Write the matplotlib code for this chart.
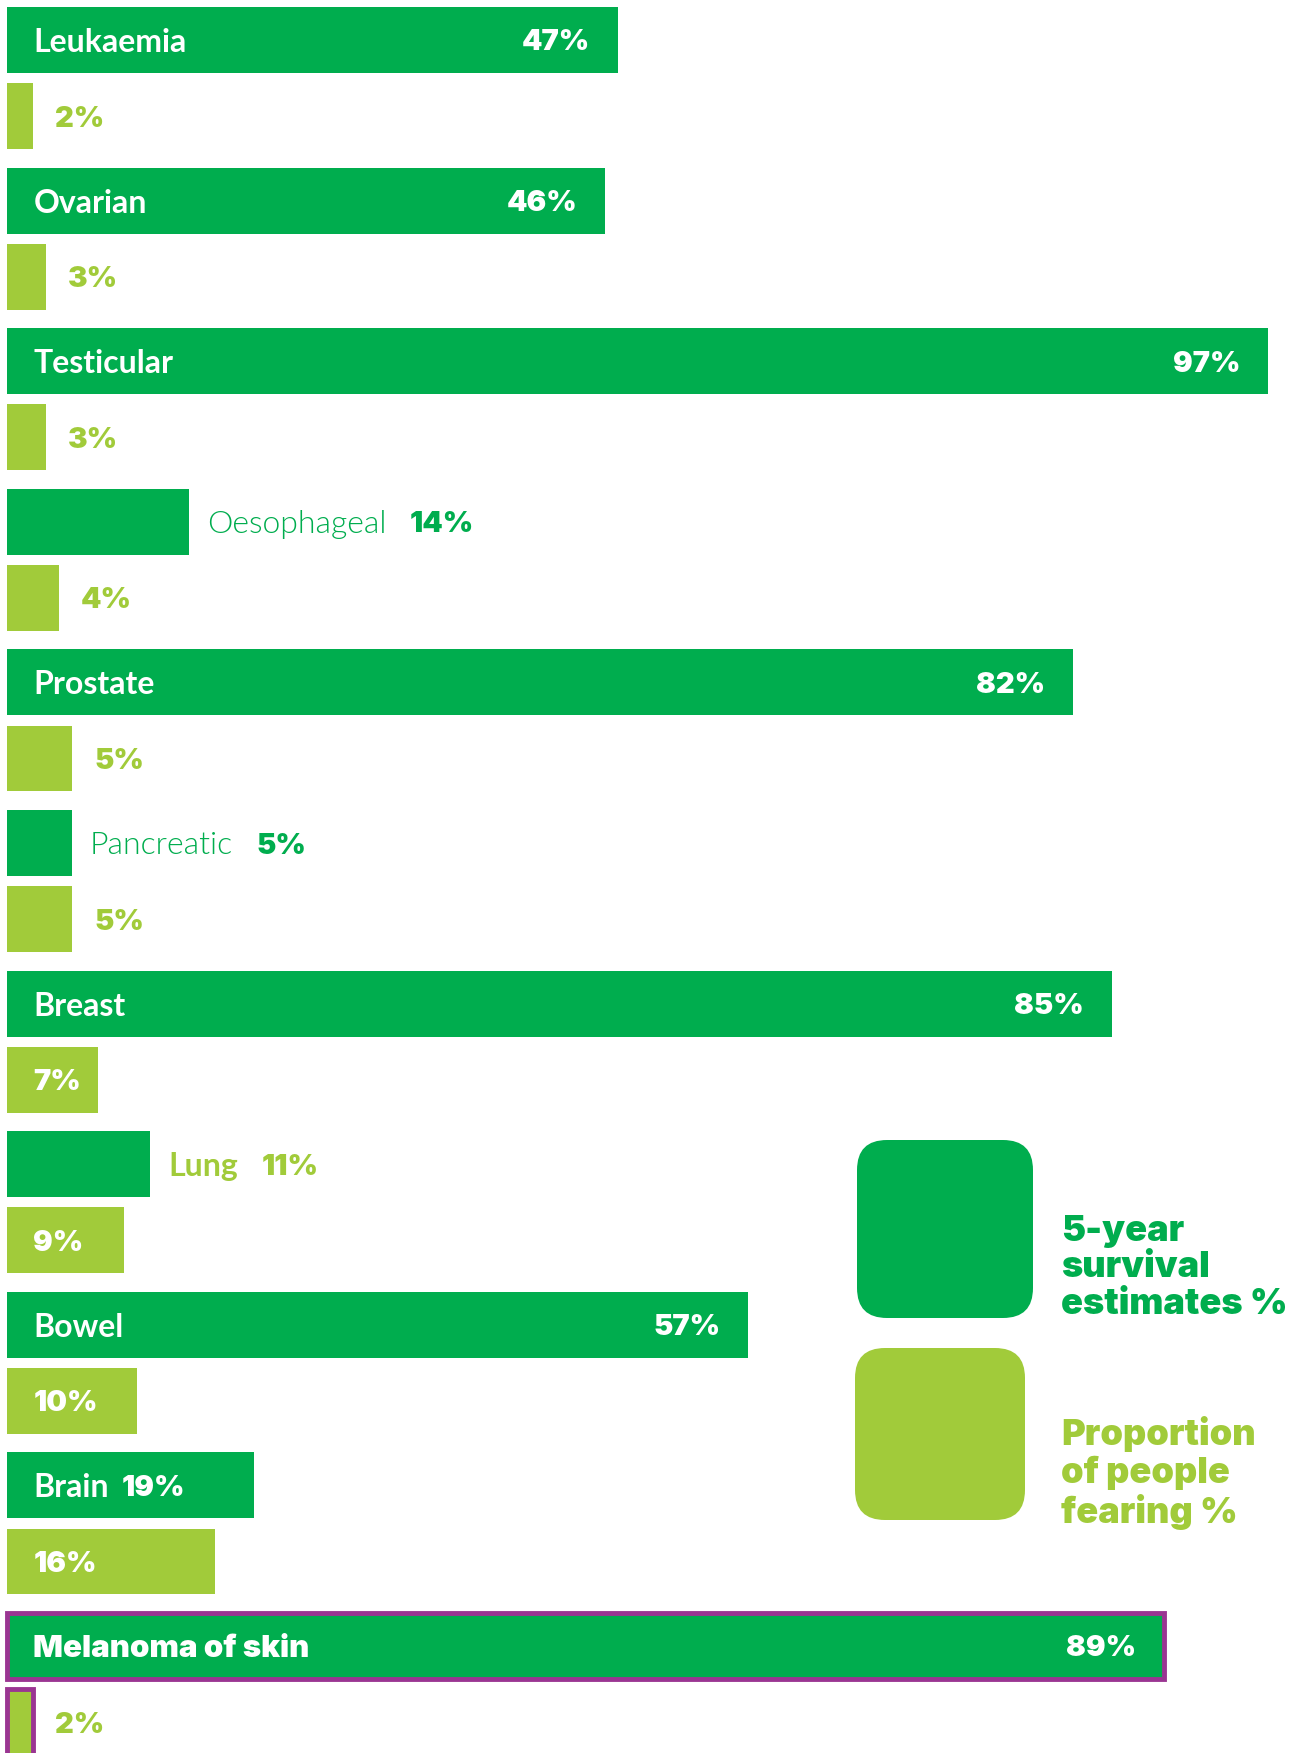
import matplotlib.pyplot as plt
from matplotlib.patches import FancyBboxPatch

# survival vs. fear, by cancer type
cancers = ['Leukaemia', 'Ovarian', 'Testicular', 'Oesophageal', 'Prostate',
           'Pancreatic', 'Breast', 'Lung', 'Bowel', 'Brain', 'Melanoma of skin']
survival = [47, 46, 97, 14, 82, 5, 85, 11, 57, 19, 89]
fearing = [2, 3, 3, 4, 5, 5, 7, 9, 10, 16, 2]
highlight = 'Melanoma of skin'
legend_labels = ['5-year\nsurvival\nestimates %', 'Proportion\nof people\nfearing %']

DARK = '#00AD4E'
LIGHT = '#A1CB3A'
PURPLE = '#9A3592'
NAME_FONT = 'Lato'
NUM_FONT = 'Inter'

W, H = 1297, 1753
fig = plt.figure(figsize=(W / 100, H / 100), dpi=100)
ax = fig.add_axes([0, 0, 1, 1])
ax.set_xlim(-7 / 13, (W - 7) / 13)
ax.set_ylim((H - 40) / 160.6, -40 / 160.6)
ax.axis('off')

bar_h = 0.41
y_surv = list(range(len(cancers)))
y_fear = [y + 0.474 for y in y_surv]
edges = [PURPLE if c == highlight else 'none' for c in cancers]

ax.barh(y_surv, survival, height=bar_h, color=DARK, edgecolor=edges, linewidth=3.5)
ax.barh(y_fear, fearing, height=bar_h, color=LIGHT, edgecolor=edges, linewidth=3.5)

name_kw = dict(fontfamily=NAME_FONT, fontsize=23, va='center_baseline',
               textcoords='offset points')
num_kw = dict(fontfamily=NUM_FONT, fontsize=21, fontweight=900,
              va='center_baseline', textcoords='offset points')
hl_kw = dict(num_kw, fontsize=22.5)
renderer = fig.canvas.get_renderer()


def right_edge(t):
    bb = t.get_window_extent(renderer)
    return ax.transData.inverted().transform((bb.x1, 0))[0]


# survival labels: inside for wide bars, outside for narrow ones
for name, s, y in zip(cancers, survival, y_surv):
    if s >= 30:
        if name == highlight:
            ax.annotate(name, (0, y), xytext=(19, 0), color='white', **hl_kw)
        else:
            ax.annotate(name, (0, y), xytext=(19, 0), color='white',
                        fontweight='bold', **name_kw)
        ax.annotate(f'{s}%', (s, y), xytext=(-20, 0), color='white',
                    ha='right', **num_kw)
    elif s >= 18:
        t = ax.annotate(name, (0, y), xytext=(19, 0), color='white',
                        fontweight='bold', **name_kw)
        ax.annotate(f'{s}%', (right_edge(t), y), xytext=(9, 0),
                    color='white', **num_kw)
    else:
        col = LIGHT if name == 'Lung' else DARK
        wt = 'bold' if name == 'Lung' else 300
        t = ax.annotate(name, (s, y), xytext=(13, 0), color=col,
                        fontweight=wt, **name_kw)
        ax.annotate(f'{s}%', (right_edge(t), y), xytext=(17, 0),
                    color=col, **num_kw)

# fear labels
for f, y in zip(fearing, y_fear):
    if f >= 7:
        ax.annotate(f'{f}%', (0, y), xytext=(19, 0), color='white', **num_kw)
    else:
        ax.annotate(f'{f}%', (f, y), xytext=(16, 0), color=LIGHT, **num_kw)

# legend drawn in pixel space
lax = fig.add_axes([0, 0, 1, 1], facecolor='none')
lax.set_xlim(0, W)
lax.set_ylim(H, 0)
lax.axis('off')
for (x0, y0, w, h), col, label, ty in zip(
        [(857, 1140, 176, 178), (855, 1348, 170, 172)],
        [DARK, LIGHT], legend_labels, [1215, 1416]):
    lax.add_patch(FancyBboxPatch((x0, y0), w, h,
                                 boxstyle='round,pad=0,rounding_size=30',
                                 facecolor=col, edgecolor='none'))
    lax.text(1061, ty, label, color=col, fontfamily=NUM_FONT, fontsize=26,
             fontweight=900, va='top', ha='left', linespacing=1.13)

fig.savefig('out.png', dpi=100)
